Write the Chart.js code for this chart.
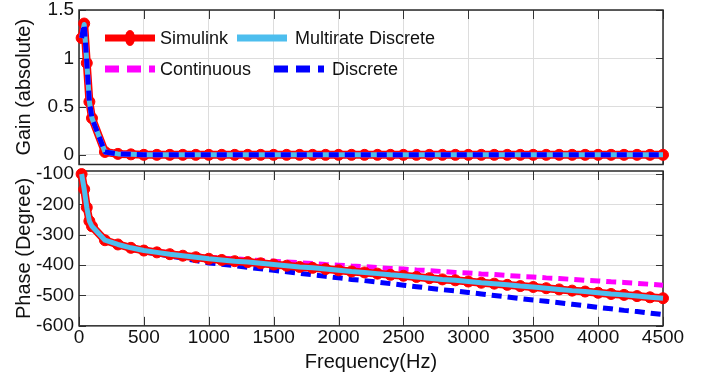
<!DOCTYPE html>
<html><head><meta charset="utf-8">
<script src="https://cdn.jsdelivr.net/npm/chart.js@4/dist/chart.umd.min.js"></script>
<style>
html,body{margin:0;padding:0;background:#fff;}
#wrap{position:relative;width:702px;height:376px;overflow:hidden;font-family:"Liberation Sans",Arial,sans-serif;}
#c1{position:absolute;left:0;top:0;}
#c2{position:absolute;left:0;top:160px;}
.item{position:absolute;height:20px;display:flex;align-items:center;font-size:18px;color:#111;white-space:nowrap;}
.item svg{display:block;}
</style></head>
<body><div id="wrap">
<canvas id="c1" width="702" height="171"></canvas>
<canvas id="c2" width="702" height="216"></canvas>
<div id="legend"></div>
</div>
<script>
// ---- data ----
const freq = [20,40,60,80,100,200,300,400,500,600,700,800,900,1000,1100,1200,1300,1400,1500,1600,1700,1800,1900,2000,2100,2200,2300,2400,2500,2600,2700,2800,2900,3000,3100,3200,3300,3400,3500,3600,3700,3800,3900,4000,4100,4200,4300,4400,4500];
const seriesNames = ['Simulink','Multirate Discrete','Continuous','Discrete'];

const gainSimulink   = [1.21,1.36,0.95,0.55,0.38,0.03,0.01,0.005,0,0,0,0,0,0,0,0,0,0,0,0,0,0,0,0,0,0,0,0,0,0,0,0,0,0,0,0,0,0,0,0,0,0,0,0,0,0,0,0,0];
const gainMultirate  = [1.21,1.35,0.96,0.55,0.38,0.03,0.01,0.005,0,0,0,0,0,0,0,0,0,0,0,0,0,0,0,0,0,0,0,0,0,0,0,0,0,0,0,0,0,0,0,0,0,0,0,0,0,0,0,0,0];
const gainContinuous = [1.21,1.35,0.96,0.55,0.38,0.03,0.01,0.005,0,0,0,0,0,0,0,0,0,0,0,0,0,0,0,0,0,0,0,0,0,0,0,0,0,0,0,0,0,0,0,0,0,0,0,0,0,0,0,0,0];
const gainDiscrete   = [1.21,1.35,0.96,0.55,0.38,0.03,0.01,0.005,0,0,0,0,0,0,0,0,0,0,0,0,0,0,0,0,0,0,0,0,0,0,0,0,0,0,0,0,0,0,0,0,0,0,0,0,0,0,0,0,0];

const phaseSimulink   = [-100,-150,-210,-255,-272,-318,-332,-343,-352,-358,-364,-369,-374,-379,-383,-387,-390,-394,-398,-402,-406,-409,-413,-417,-421,-424,-428,-432,-435,-439,-443,-447,-450,-454,-458,-461,-465,-469,-472,-476,-480,-484,-487,-491,-495,-498,-502,-506,-509];
const phaseMultirate  = [-100,-150,-210,-255,-272,-318,-332,-343,-352,-358,-364,-369,-374,-379,-383,-387,-390,-394,-398,-402,-406,-409,-413,-417,-421,-424,-428,-432,-435,-439,-443,-447,-450,-454,-458,-461,-465,-469,-472,-476,-480,-484,-487,-491,-495,-498,-502,-506,-509];
const phaseContinuous = [-100,-150,-210,-255,-272,-317,-330,-340,-348,-354,-360,-365,-369,-374,-377,-379,-382,-385,-387,-390,-392,-395,-398,-400,-403,-405,-408,-411,-413,-416,-418,-421,-424,-426,-429,-431,-434,-437,-439,-442,-444,-447,-450,-452,-455,-457,-460,-463,-466];
const phaseDiscrete   = [-100,-150,-210,-255,-272,-319,-335,-347,-356,-363,-370,-377,-385,-393,-397,-402,-407,-412,-417,-422,-427,-432,-437,-442,-447,-451,-456,-461,-466,-471,-476,-481,-485,-490,-495,-500,-505,-510,-515,-519,-524,-529,-534,-539,-544,-549,-553,-558,-563];

const xTickValues = [0,500,1000,1500,2000,2500,3000,3500,4000,4500];
const gainTickValues = [0,0.5,1,1.5];
const phaseTickValues = [-600,-500,-400,-300,-200,-100];

// ---- styles ----
const RED='#FF0000', CYAN='#4DBEEE', MAG='#FF00FF', BLUE='#0000FF';
const FONT = '"Liberation Sans", Arial, sans-serif';
const pts = arr => freq.map((f,i)=>({x:f,y:arr[i]}));

function makeDatasets(s, m, c, d, orders){
  return [
    {label:seriesNames[0], data:pts(s), borderColor:RED, backgroundColor:RED, borderWidth:8, borderJoinStyle:'round',
      pointRadius:5.5, pointHoverRadius:5.5, pointBackgroundColor:RED, pointBorderColor:RED, pointBorderWidth:1, order:orders[0], clip:false},
    {label:seriesNames[1], data:pts(m), borderColor:CYAN, borderWidth:5, borderJoinStyle:'round', pointRadius:0, order:orders[1], clip:false},
    {label:seriesNames[2], data:pts(c), borderColor:MAG, borderWidth:5, borderJoinStyle:'round', borderDash:[10,6], pointRadius:0, order:orders[2], clip:false},
    {label:seriesNames[3], data:pts(d), borderColor:BLUE, borderWidth:5, borderJoinStyle:'round', borderDash:[10,6], pointRadius:0, order:orders[3], clip:false}
  ];
}

const framePlugin = {
  id:'frame',
  beforeDatasetsDraw(chart){
    const {ctx, chartArea:a, scales} = chart;
    ctx.save();
    ctx.strokeStyle='#333'; ctx.lineWidth=1;
    const ln=(x1,y1,x2,y2)=>{ctx.beginPath();ctx.moveTo(x1,y1);ctx.lineTo(x2,y2);ctx.stroke();};
    scales.x.ticks.forEach(t=>{const x=Math.round(scales.x.getPixelForValue(t.value))+0.5; ln(x,a.bottom,x,a.bottom-9); ln(x,a.top,x,a.top+9);});
    scales.y.ticks.forEach(t=>{const y=Math.round(scales.y.getPixelForValue(t.value))+0.5; ln(a.left,y,a.left+7,y); ln(a.right,y,a.right-7,y);});
    ctx.lineWidth=1.5; ctx.strokeStyle='#2a2a2a';
    ctx.strokeRect(a.left,a.top,a.right-a.left,a.bottom-a.top);
    ctx.restore();
  }
};

function zeroPad(s){ s.paddingTop=0; s.paddingBottom=0; s.paddingLeft=0; s.paddingRight=0; }

function baseOptions(yMin,yMax,yTicks,yTitle,showX){
  return {
    responsive:false, animation:false, devicePixelRatio:1,
    layout:{padding:{top: showX?11:10, right:39, bottom: showX?0:2, left:0}},
    plugins:{legend:{display:false}, tooltip:{enabled:false}},
    scales:{
      x:{type:'linear', min:0, max:4500,
        afterBuildTicks:s=>{s.ticks=xTickValues.map(v=>({value:v}));},
        afterFit:s=>{ zeroPad(s); if(!showX) s.height=0; },
        grid:{color:'#dddddd', drawTicks:false, lineWidth:1},
        border:{display:false},
        ticks:{display:showX, padding:4, color:'#111', font:{family:FONT,size:19,lineHeight:0.85}, maxRotation:0, callback:v=>String(v)},
        title:{display:showX, text:'Frequency(Hz)', color:'#111', font:{family:FONT,size:20,lineHeight:1.2}, padding:{top:0,bottom:2}}
      },
      y:{type:'linear', min:yMin, max:yMax,
        afterBuildTicks:s=>{s.ticks=yTicks.map(v=>({value:v}));},
        afterFit:s=>{ s.width=79; zeroPad(s); },
        grid:{color:'#dddddd', drawTicks:false, lineWidth:1},
        border:{display:false},
        ticks:{padding:5, color:'#111', font:{family:FONT,size:19}, callback:v=>String(v)},
        title:{display:true, text:yTitle, color:'#111', font:{family:FONT,size:20,lineHeight:1.2}, padding:{top:12,bottom:0}}
      }
    }
  };
}

new Chart(document.getElementById('c1'), {
  type:'line',
  data:{datasets:makeDatasets(gainSimulink,gainMultirate,gainContinuous,gainDiscrete,[4,2,3,1])},
  options:baseOptions(-0.1,1.5,gainTickValues,'Gain (absolute)',false),
  plugins:[framePlugin]
});
new Chart(document.getElementById('c2'), {
  type:'line',
  data:{datasets:makeDatasets(phaseSimulink,phaseMultirate,phaseContinuous,phaseDiscrete,[2,1,4,3])},
  options:baseOptions(-600,-90,phaseTickValues,'Phase (Degree)',true),
  plugins:[framePlugin]
});

// ---- legend (HTML) ----
const legendLayout = [
  {left:105, top:28, color:RED, dash:null, marker:true, textGap:5},
  {left:237, top:28, color:CYAN, dash:null, marker:false, textGap:8},
  {left:105, top:59, color:MAG, dash:'14 8', marker:false, textGap:5},
  {left:274, top:59, color:BLUE, dash:'14 8', marker:false, textGap:8}
];
const leg = document.getElementById('legend');
seriesNames.forEach((name,i)=>{
  const L = legendLayout[i];
  const div = document.createElement('div');
  div.className='item';
  div.style.left=L.left+'px'; div.style.top=L.top+'px';
  const svgNS='http://www.w3.org/2000/svg';
  const svg=document.createElementNS(svgNS,'svg');
  svg.setAttribute('width','50'); svg.setAttribute('height','20');
  const line=document.createElementNS(svgNS,'line');
  line.setAttribute('x1','0'); line.setAttribute('x2','50'); line.setAttribute('y1','10'); line.setAttribute('y2','10');
  line.setAttribute('stroke',L.color); line.setAttribute('stroke-width','7');
  if(L.dash) line.setAttribute('stroke-dasharray',L.dash);
  svg.appendChild(line);
  if(L.marker){
    const c=document.createElementNS(svgNS,'ellipse');
    c.setAttribute('cx','25'); c.setAttribute('cy','10'); c.setAttribute('rx','5'); c.setAttribute('ry','8');
    c.setAttribute('fill',L.color); svg.appendChild(c);
  }
  div.appendChild(svg);
  const sp=document.createElement('span');
  sp.textContent=name; sp.style.marginLeft=L.textGap+'px';
  div.appendChild(sp);
  leg.appendChild(div);
});
</script>
</body></html>
